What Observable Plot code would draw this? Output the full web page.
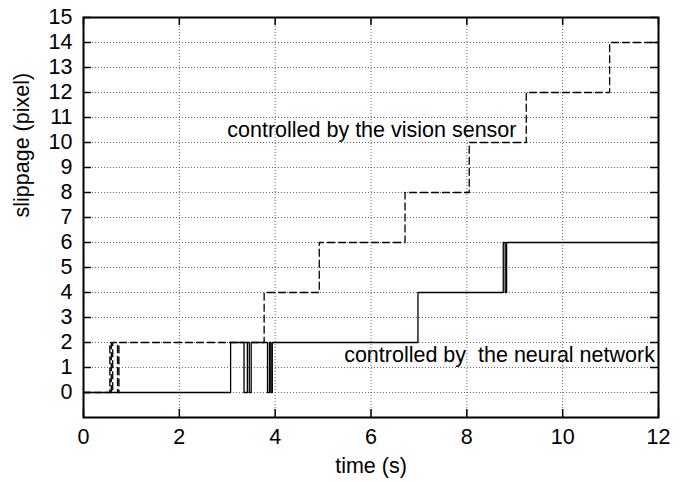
<!DOCTYPE html>
<html><head><meta charset="utf-8">
<script src="https://cdn.jsdelivr.net/npm/d3@7"></script>
<script src="https://cdn.jsdelivr.net/npm/@observablehq/plot@0.6"></script>
<style>
body{margin:0;background:#fff}
svg text{white-space:pre}
</style>
</head><body><div id="chart"></div>
<script>
// vision sensor controlled (dashed), step-after transitions
const visionTime = [0, 0.55, 0.58, 0.61, 0.71, 0.74, 3.77, 4.92, 6.71, 8.05, 9.24, 10.98, 12];
const visionSlip = [0, 2, 0, 2, 0, 2, 4, 6, 8, 10, 12, 14, 14];
// neural network controlled (solid)
const neuralTime = [0, 3.07, 3.35, 3.42, 3.46, 3.50, 3.84, 3.88, 3.91, 3.94, 6.98, 8.76, 8.80, 8.83, 12];
const neuralSlip = [0, 2, 0, 2, 0, 2, 0, 2, 0, 2, 4, 6, 4, 6, 6];
const xTicks = [0, 2, 4, 6, 8, 10, 12];
const yTicks = [0,1,2,3,4,5,6,7,8,9,10,11,12,13,14,15];
const xGrid = [2, 4, 6, 8, 10];
const yGrid = [0,1,2,3,4,5,6,7,8,9,10,11,12,13,14];
const annotations = [
  {label: "controlled by the vision sensor", t: 3.0, s: 10.5},
  {label: "controlled by  the neural network", t: 5.44, s: 1.5}
];
const xLabel = "time (s)";
const yLabel = "slippage (pixel)";

const W = 692, H = 482, mL = 83, mR = 34, mT = 17, mB = 65;
const pw = W - mL - mR, ph = H - mT - mB, tl = 8;
const fs = 21.5;

const vision = visionTime.map((t, i) => ({t, s: visionSlip[i]}));
const neural = neuralTime.map((t, i) => ({t, s: neuralSlip[i]}));

const chart = Plot.plot({
  width: W, height: H,
  marginLeft: mL, marginRight: mR, marginTop: mT, marginBottom: mB,
  style: {fontFamily: "'Liberation Sans', Arial, sans-serif", fontSize: fs + "px", color: "black", background: "white"},
  x: {domain: [0, 12], label: null},
  y: {domain: [-1, 15], label: null},
  marks: [
    Plot.ruleX(xGrid, {x: d => d, stroke: "#666", strokeDasharray: "1,2", strokeWidth: 1}),
    Plot.ruleY(yGrid, {y: d => d, stroke: "#666", strokeDasharray: "1,2", strokeWidth: 1}),
    Plot.tickX(xTicks, {x: d => d, insetTop: ph - tl, stroke: "black", strokeWidth: 1.5}),
    Plot.tickX(xTicks, {x: d => d, insetBottom: ph - tl, stroke: "black", strokeWidth: 1.5}),
    Plot.tickY(yTicks, {y: d => d, insetRight: pw - tl, stroke: "black", strokeWidth: 1.5}),
    Plot.tickY(yTicks, {y: d => d, insetLeft: pw - tl, stroke: "black", strokeWidth: 1.5}),
    Plot.axisX(xTicks, {tickSize: 0, tickPadding: 11, label: null, fontSize: fs}),
    Plot.axisY(yTicks, {tickSize: 0, tickPadding: 11, label: null, fontSize: fs}),
    Plot.line(vision, {x: "t", y: "s", curve: "step-after", stroke: "black", strokeWidth: 1.3, strokeDasharray: "7,4"}),
    Plot.line(neural, {x: "t", y: "s", curve: "step-after", stroke: "black", strokeWidth: 1.3}),
    Plot.text(annotations, {x: "t", y: "s", text: "label", textAnchor: "start", fontSize: fs, fill: "black"}),
    Plot.text([xLabel], {frameAnchor: "bottom", dy: 55, fontSize: fs, fill: "black"}),
    Plot.text([yLabel], {frameAnchor: "left", rotate: -90, dx: -61, fontSize: fs, fill: "black"}),
    Plot.frame({stroke: "black", strokeWidth: 2})
  ]
});
document.getElementById("chart").append(chart);
</script>
</body></html>
